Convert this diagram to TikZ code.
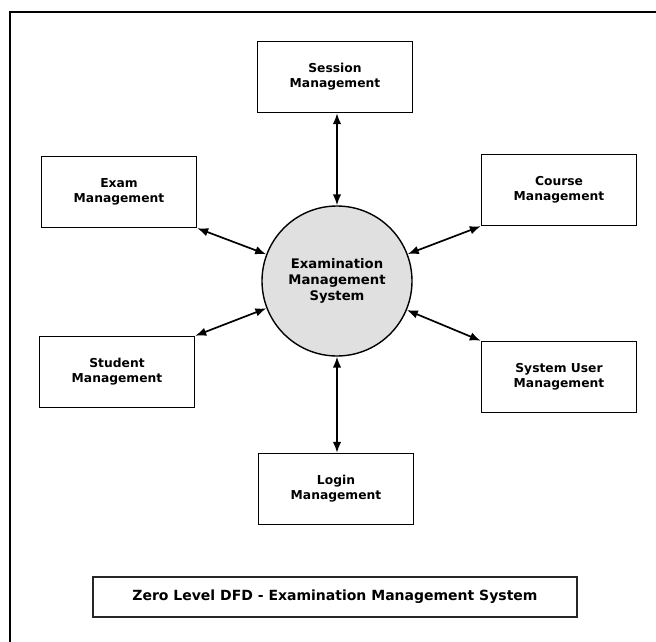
\documentclass[tikz,border=0pt]{standalone}
\usepackage{fontspec}
\setmainfont{DejaVu Sans}
\usetikzlibrary{positioning, arrows.meta}

\begin{document}
\begin{tikzpicture}[x=1pt, y=-1pt, >={Latex[length=11pt, width=8.5pt]}, thick]
        \tikzset{
            procbox/.style={draw, rectangle, line width=1.4pt, minimum width=155pt, minimum height=71pt, align=center, font=\fontsize{12.3}{15}\selectfont\bfseries},
            flow/.style={<->, line width=1.7pt},
        }
        \useasboundingbox (0,0) rectangle (656,642);

        % Page frame
        \draw[line width=1.8pt] (10,642) -- (10,12) -- (656,12);

        % Central process
        \node[draw, circle, line width=1.4pt, fill=black!12, minimum size=150pt, align=center, font=\fontsize{13.2}{16}\selectfont\bfseries] (ems) at (337,281) {Examination\\Management\\System};

        % External entities
        \node[procbox] (session) at (335,77) {Session\\Management};
        \node[procbox] (exam) at (119,192) {Exam\\Management};
        \node[procbox] (course) at (559,190) {Course\\Management};
        \node[procbox] (student) at (117,372) {Student\\Management};
        \node[procbox] (sysuser) at (559,377) {System User\\Management};
        \node[procbox] (login) at (336,489) {Login\\Management};

        % Data flows
        \draw[flow] (session.south -| ems) -- (ems.north);
        \draw[flow] (exam.south east) -- (ems);
        \draw[flow] (course.south west) -- (ems);
        \draw[flow] (student.north east) -- (ems);
        \draw[flow] (sysuser.north west) -- (ems);
        \draw[flow] (login.north -| ems) -- (ems.south);

        % Caption
        \node[draw, rectangle, line width=1.6pt, draw=black!85, minimum width=484pt, minimum height=40pt, font=\fontsize{14}{16}\selectfont\bfseries] (caption) at (335,597) {Zero Level DFD - Examination Management System};
    \end{tikzpicture}
\end{document}
